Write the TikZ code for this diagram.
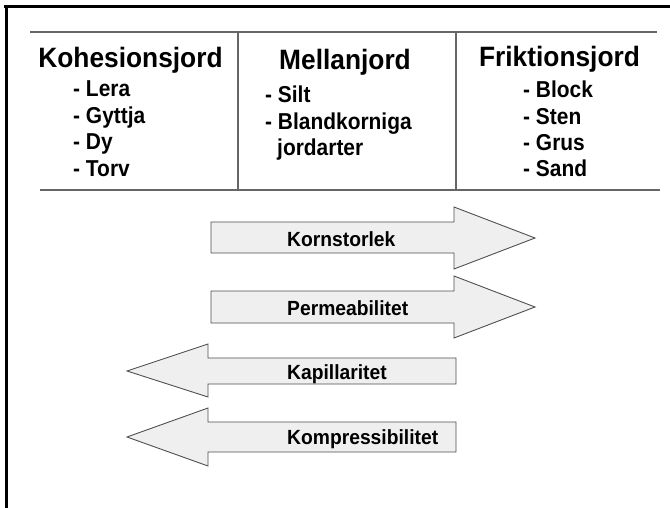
\documentclass[tikz,border=0pt]{standalone}
\usepackage{fontspec}
\setmainfont{Liberation Sans}
% narrowed bold faces for headings, list items and arrow labels
\newfontfamily\headfont[FakeStretch=0.94]{Liberation Sans Bold}
\newfontfamily\itemfont[FakeStretch=0.91]{Liberation Sans Bold}
\newfontfamily\labelfont[FakeStretch=0.94]{Liberation Sans Bold}
\definecolor{rule}{HTML}{666666}
\definecolor{arrowfill}{HTML}{EFEFEF}
\definecolor{arrowline}{HTML}{505050}
\begin{document}
\begin{tikzpicture}[x=1pt,y=-1pt,
  frame/.style={line width=2.5pt,black},
  tabline/.style={line width=1.2pt,rule},
  colhead/.style={anchor=base,inner sep=0pt,font=\headfont\fontsize{28}{30}\selectfont},
  item/.style={anchor=base west,inner sep=0pt,font=\itemfont\fontsize{23}{25}\selectfont},
  bigarrow/.style={fill=arrowfill,draw=arrowline,line width=0.9pt,line join=miter},
  arrowlabel/.style={anchor=base west,inner sep=0pt,font=\labelfont\fontsize{20.5}{22}\selectfont}]
\useasboundingbox (0,0) rectangle (670,508);
\fill[white] (0,0) rectangle (670,508);

% outer frame: top and left edges
\draw[frame] (4,6.5) -- (670,6.5);
\draw[frame] (6.5,5) -- (6.5,508);

% table rules
\draw[tabline] (30,32) -- (657,32);
\draw[tabline] (40,190) -- (660,190);
\draw[tabline] (238,32) -- (238,190);
\draw[tabline] (456,32) -- (456,190);

% column headings
\node[colhead] (kohesion) at (130.5,68) {Kohesionsjord};
\node[colhead] (mellan) at (345,69.5) {Mellanjord};
\node[colhead] (friktion) at (559.5,67) {Friktionsjord};

% cohesive soils
\node[item] (lera) at (73,97) {- Lera};
\node[item] (gyttja) at (73,123.5) {- Gyttja};
\node[item] (dy) at (73,150) {- Dy};
\node[item] (torv) at (73,177) {- Torv};

% intermediate soils
\node[item] (silt) at (265,103) {- Silt};
\node[item] (bland) at (265,130) {- Blandkorniga};
\node[item] (jordarter) at (277,156) {jordarter};

% frictional soils
\node[item] (block) at (523,98) {- Block};
\node[item] (sten) at (523,124.5) {- Sten};
\node[item] (grus) at (523,150.5) {- Grus};
\node[item] (sand) at (523,177) {- Sand};

% right-pointing arrows
\draw[bigarrow] (211,222) -- (454,222) -- (454,207) -- (535,238)
  -- (454,269) -- (454,253) -- (211,253) -- cycle;
\draw[bigarrow] (211,291) -- (454,291) -- (454,276) -- (535,307)
  -- (454,338) -- (454,323) -- (211,323) -- cycle;

% left-pointing arrows
\draw[bigarrow] (456,358) -- (208,358) -- (208,344) -- (127,371)
  -- (208,397) -- (208,384) -- (456,384) -- cycle;
\draw[bigarrow] (456,422) -- (208,422) -- (208,408) -- (127,437)
  -- (208,466) -- (208,452) -- (456,452) -- cycle;

% arrow labels
\node[arrowlabel] (korn) at (287,247) {Kornstorlek};
\node[arrowlabel] (perm) at (287,315) {Permeabilitet};
\node[arrowlabel] (kap) at (287,379) {Kapillaritet};
\node[arrowlabel] (komp) at (287,444) {Kompressibilitet};
\end{tikzpicture}
\end{document}
